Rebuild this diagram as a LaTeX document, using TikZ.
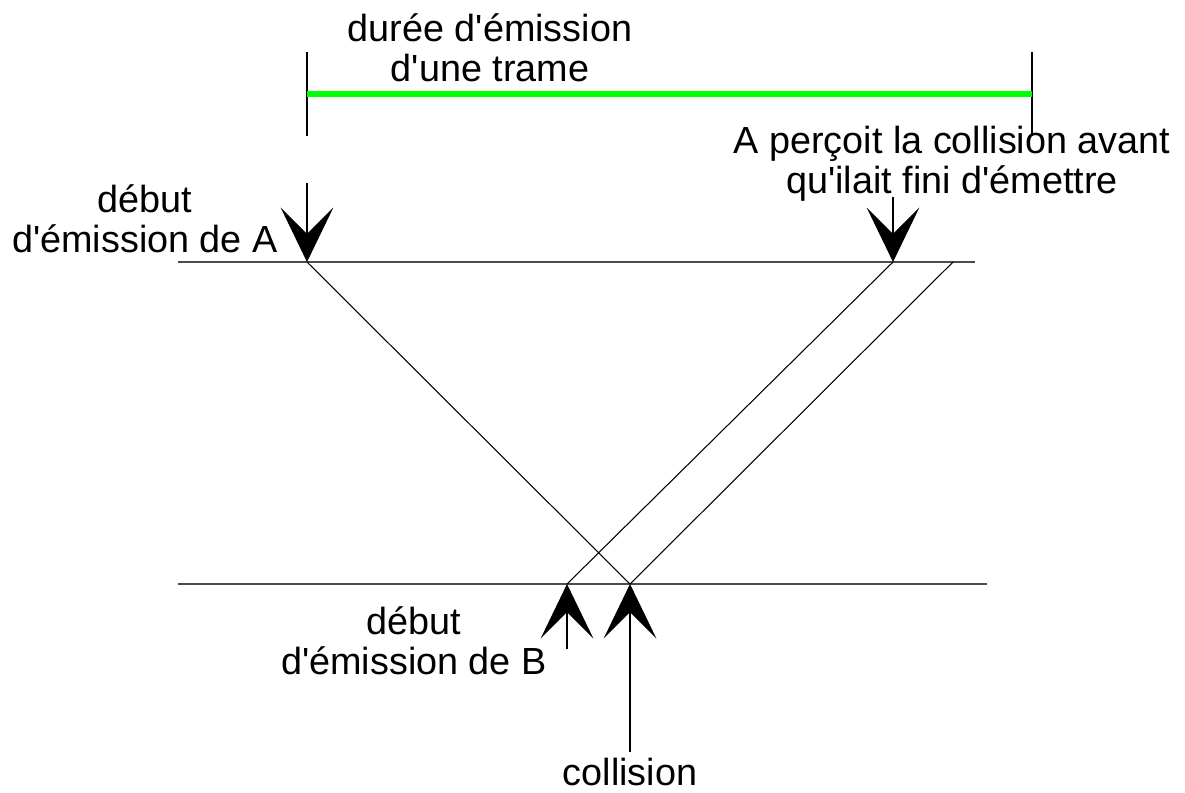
\documentclass[tikz,border=0pt]{standalone}
\usepackage{fontspec}
\setmainfont{Liberation Sans}
\usetikzlibrary{arrows.meta, positioning}
\definecolor{cGreen}{RGB}{0,255,0}
\newcommand{\ap}{\textquotesingle}
\tikzset{
	txt/.style      ={align=center, font=\fontsize{21.5}{23}\selectfont, inner sep=0pt},
	wire/.style     ={draw=black!70, line width=0.6pt},
	sig/.style      ={draw=black, line width=0.6pt},
	bigarrow/.style ={-{Stealth[length=31pt, width=30pt, inset=15pt]}, line width=0.6pt},
}

\begin{document}
\begin{tikzpicture}[x=0.02cm, y=-0.02cm]
	\useasboundingbox (0,0) rectangle (1185,792);
	% the two stations (time lines)
	\coordinate (aL) at (178,262);
	\coordinate (aR) at (975,262);
	\coordinate (bL) at (178,584);
	\coordinate (bR) at (987,584);
	\draw[wire] (aL) -- (aR);
	\draw[wire] (bL) -- (bR);
	% emission points
	\coordinate (aStart) at (307,262);
	\coordinate (aSeen) at (893,262);
	\coordinate (aEnd) at (953,262);
	\coordinate (bStart) at (567,584);
	\coordinate (bColl) at (630,584);
	\draw[sig] (aStart) -- (bColl);
	\draw[sig] (aSeen) -- (bStart);
	\draw[sig] (aEnd) -- (bColl);
	% frame duration
	\coordinate (durL) at (307,94);
	\coordinate (durR) at (1032,94);
	\draw[sig] ([yshift=24]durL) -- ([yshift=-24]durL);
	\draw[sig] ([yshift=24]durR) -- ([yshift=-24]durR);
	\draw[cGreen, line width=3pt] (durL) -- (durR);
	\node[txt] (durTxt) at (490,48) {durée d\ap émission\\ d\ap une trame};
	% arrows and labels
	\coordinate (aTail) at (307,183);
	\coordinate (seenTail) at (893,197);
	\coordinate (bTail) at (567,649);
	\coordinate (collTail) at (630,752);
	\draw[bigarrow] (aTail) -- (aStart);
	\draw[bigarrow] (seenTail) -- (aSeen);
	\draw[bigarrow] (bTail) -- (bStart);
	\draw[bigarrow] (collTail) -- (bColl);
	\node[txt] (aTxt) at (145,219) {début\\ d\ap émission de A};
	\node[txt] (seenTxt) at (952,164) {A perçoit la collision avant\\ qu\ap ilait fini d\ap émettre};
	\node[txt] (bTxt) at (414,641) {début\\ d\ap émission de B};
	\node[txt, below=3pt of collTail] (collTxt) {collision};
\end{tikzpicture}
\end{document}
